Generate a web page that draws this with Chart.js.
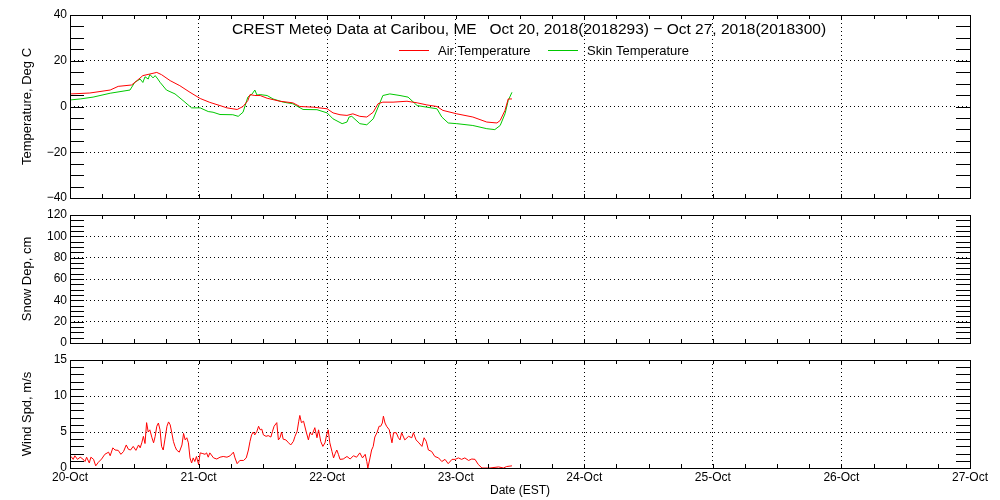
<!DOCTYPE html>
<html>
<head>
<meta charset="utf-8">
<script src="https://cdn.jsdelivr.net/npm/chart.js"></script>
<style>
  body { margin: 0; background: #fff; }
  #wrap { position: relative; width: 1000px; height: 500px; background: #fff; }
  #wrap canvas { position: absolute; left: 0; }
</style>
</head>
<body>
<div id="wrap">
  <canvas id="tempChart" width="1000" height="210" style="top:0px"></canvas>
  <canvas id="snowChart" width="1000" height="152" style="top:203px"></canvas>
  <canvas id="windChart" width="1000" height="152" style="top:348px"></canvas>
</div>
<script>
// Day labels along the time axis (hours since 20-Oct 00:00 EST)
const dayLabels = ['20-Oct', '21-Oct', '22-Oct', '23-Oct', '24-Oct', '25-Oct', '26-Oct', '27-Oct'];

// Air temperature, deg C
const airHours = [0.2, 3.7, 7.5, 9.0, 11.5, 12.5, 13.6, 14.9, 16.2, 17.1, 18.7, 20.5, 22.4, 24.3, 26.1,
  28.0, 29.3, 31.2, 32.3, 33.2, 33.6, 34.5, 35.5, 36.8, 39.2, 41.6, 42.9, 45.4, 48.0, 49.1, 50.4,
  51.7, 52.8, 54.1, 55.4, 56.6, 57.5, 58.4, 60.3, 62.9, 64.8, 66.6, 68.5, 69.6, 72.2, 75.2, 77.8,
  79.7, 80.3, 81.2, 81.8, 82.5];
const airTemp = [5.5, 5.9, 7.2, 8.8, 9.4, 11.3, 13.5, 14.2, 14.9, 13.9, 11.3, 9.1, 6.2, 3.5, 1.8,
  0.4, -0.6, -1.3, 0, 2.6, 5.2, 4.8, 4.8, 3.6, 2.3, 1.6, 0, -0.3, -1.0, -2.8, -3.6,
  -3.9, -3.2, -4.3, -4.6, -2.5, 1.2, 1.9, 1.9, 2.3, 1.6, 0.7, 0, -1.7, -3.2, -4.6, -6.8,
  -7.2, -6.1, -1.7, 3.3, 3.3];

// Skin temperature, deg C
const skinHours = [0.2, 1.9, 4.3, 7.5, 11.2, 12.1, 13.1, 13.6, 14.0, 14.6, 14.9, 15.5, 15.9, 16.4, 16.8,
  18.0, 19.6, 21.1, 22.7, 24.3, 25.8, 26.7, 28.0, 30.4, 31.4, 32.3, 33.2, 34.0, 34.5, 34.9, 35.5,
  36.8, 37.9, 39.8, 41.6, 43.5, 46.1, 48.0, 49.1, 50.8, 51.7, 52.1, 52.6, 54.1, 55.4, 56.6, 57.9,
  58.4, 59.7, 61.6, 63.1, 64.8, 66.6, 68.5, 69.4, 70.6, 72.2, 75.2, 77.8, 79.3, 80.3, 81.2, 81.8, 82.5];
const skinTemp = [2.9, 3.3, 4.1, 5.8, 7.2, 10.6, 12.0, 10.5, 13.0, 12.0, 14.0, 12.5, 13.5, 12.0, 10.6,
  7.2, 5.5, 2.6, -0.6, -0.6, -2.2, -2.5, -3.5, -3.6, -4.3, -2.5, 4.1, 5.5, 7.2, 5.0, 5.2,
  4.8, 3.3, 1.9, 1.2, -1.3, -1.4, -2.8, -5.4, -7.5, -6.8, -4.6, -4.3, -7.5, -8.0, -5.4, 1.9,
  4.8, 5.5, 4.8, 4.1, 0.4, -0.3, -1.0, -4.6, -7.2, -7.5, -8.3, -9.7, -10.1, -8.3, -3.2, 2.6, 6.2];

// Wind speed, m/s
const windHours = [0.2, 0.6, 0.9, 1.4, 1.9, 2.4, 2.8, 3.1, 3.6, 3.9, 4.4, 4.8, 5.3, 5.9, 6.5, 7.2, 7.5,
  8.0, 8.4, 9.0, 9.5, 10.0, 10.5, 10.9, 11.3, 11.8, 12.3, 12.8, 13.1, 13.4, 13.7, 14.0, 14.3, 14.6,
  14.9, 15.3, 15.6, 15.9, 16.2, 16.5, 16.8, 17.1, 17.4, 17.7, 18.1, 18.4, 18.7, 19.0, 19.3, 19.6,
  19.9, 20.4, 20.9, 21.2, 21.5, 21.8, 22.1, 22.4, 22.7, 23.0, 23.3, 23.6, 24.0, 24.3, 24.8, 25.2,
  25.5, 25.8, 26.1, 26.8, 27.4, 28.0, 28.6, 29.3, 29.9, 30.5, 30.8, 31.2, 31.7, 32.4, 32.9, 33.3,
  33.6, 33.9, 34.2, 34.5, 34.9, 35.2, 35.5, 35.8, 36.1, 36.6, 37.0, 37.5, 37.8, 38.1, 38.6, 38.9,
  39.2, 39.5, 39.8, 40.3, 40.8, 41.2, 41.7, 42.0, 42.4, 42.7, 42.9, 43.2, 43.6, 44.1, 44.5, 44.8,
  45.2, 45.7, 46.1, 46.4, 46.8, 47.2, 47.6, 47.9, 48.2, 48.5, 48.9, 49.2, 49.5, 49.8, 50.1, 50.4,
  51.0, 51.7, 52.3, 52.9, 53.5, 54.1, 54.6, 55.1, 55.4, 55.6, 56.0, 56.3, 56.6, 56.9, 57.3, 57.7,
  58.0, 58.3, 58.5, 58.8, 59.1, 59.6, 60.1, 60.4, 60.9, 61.3, 61.6, 61.9, 62.5, 63.2, 63.8, 64.1,
  64.6, 65.0, 65.7, 66.1, 66.5, 66.9, 67.5, 68.1, 68.8, 69.4, 70.0, 70.6, 71.3, 71.9, 72.5, 73.1,
  73.7, 74.4, 75.0, 75.6, 76.2, 76.9, 78.4, 80.0, 80.9, 81.5, 82.5];
const windSpeed = [1.6, 1.2, 1.7, 1.2, 1.5, 1.25, 0.9, 1.5, 0.7, 1.5, 1.2, 0.3, 0.8, 1.25, 1.9, 2.2, 1.7,
  2.8, 2.5, 2.45, 1.9, 2.3, 3.2, 2.6, 2.5, 3.0, 2.45, 3.2, 2.8, 3.5, 4.4, 3.4, 6.3, 5.0,
  5.3, 4.2, 3.5, 4.4, 5.8, 6.25, 5.3, 3.0, 2.5, 3.9, 5.8, 6.4, 6.0, 4.9, 3.7, 3.0,
  2.5, 2.2, 3.2, 4.8, 3.9, 4.2, 3.5, 1.4, 0.7, 1.4, 0.9, 1.6, 0.5, 2.1, 2.0, 1.9,
  2.1, 1.5, 2.1, 1.4, 1.25, 1.5, 1.6, 1.5, 1.7, 2.2, 1.4, 0.6, 1.05, 1.05, 1.4, 2.5,
  3.7, 4.6, 5.0, 4.6, 5.1, 5.8, 5.3, 5.4, 4.6, 4.4, 4.5, 4.3, 5.1, 5.8, 6.3, 3.9,
  4.2, 5.0, 4.0, 3.9, 3.5, 3.2, 3.7, 4.4, 5.1, 6.5, 7.3, 6.3, 6.5, 5.0, 3.9, 4.9,
  4.6, 5.6, 4.2, 5.3, 3.7, 3.0, 3.5, 4.6, 5.3, 3.5, 2.3, 1.4, 2.0, 2.5, 1.9, 1.2,
  1.25, 1.6, 1.25, 1.7, 1.5, 2.1, 1.4, 1.9, 0.9, 0, 1.4, 2.5, 3.0, 4.3, 4.9, 5.8,
  5.8, 6.25, 7.2, 6.25, 5.8, 5.3, 3.5, 4.9, 4.9, 4.2, 3.9, 4.9, 3.9, 4.4, 4.2, 4.9,
  3.9, 3.6, 3.0, 4.2, 3.7, 2.5, 2.3, 1.6, 1.4, 0.9, 1.2, 0.6, 1.2, 1.2, 1.4, 1.2,
  1.4, 1.05, 1.25, 1.2, 0.5, 0, 0, 0.15, 0, 0.2, 0.3];

const FONT = "'Liberation Sans', Arial, sans-serif";
Chart.defaults.font.family = FONT;
Chart.defaults.font.size = 12;
Chart.defaults.color = '#000';

function toPoints(xs, ys) {
  return xs.map((x, i) => ({ x: x, y: ys[i] }));
}

function minusLabel(v) {
  return v < 0 ? '\u2212' + Math.abs(v) : String(v);
}

// Frame with inward tick marks on all four sides, like the IDL plot
const framePlugin = {
  id: 'frame',
  afterDatasetsDraw(chart, args, opts) {
    const { ctx, chartArea: a, scales } = chart;
    ctx.save();
    ctx.strokeStyle = '#000';
    ctx.lineWidth = 1;
    ctx.setLineDash([]);
    ctx.beginPath();
    for (let v = scales.y.min; v <= scales.y.max + 1e-9; v += opts.yMinor) {
      const y = Math.round(scales.y.getPixelForValue(v)) + 0.5;
      ctx.moveTo(a.left, y); ctx.lineTo(a.left + 14, y);
      ctx.moveTo(a.right - 14, y); ctx.lineTo(a.right, y);
    }
    for (let h = 0; h <= 168; h += 6) {
      const x = Math.round(scales.x.getPixelForValue(h)) + 0.5;
      ctx.moveTo(x, a.top); ctx.lineTo(x, a.top + 4);
      ctx.moveTo(x, a.bottom); ctx.lineTo(x, a.bottom - 4);
    }
    ctx.stroke();
    ctx.strokeRect(a.left + 0.5, a.top + 0.5, a.right - a.left, a.bottom - a.top);
    ctx.restore();
  }
};

// Title and legend drawn inside the top panel
const headerPlugin = {
  id: 'header',
  afterDraw(chart) {
    const ctx = chart.ctx;
    ctx.save();
    ctx.fillStyle = '#000';
    ctx.textBaseline = 'middle';
    ctx.textAlign = 'left';
    ctx.font = '15.5px ' + FONT;
    ctx.fillText('CREST Meteo Data at Caribou, ME   Oct 20, 2018(2018293) \u2212 Oct 27, 2018(2018300)', 232, 30);
    ctx.font = '13px ' + FONT;
    const items = [
      { label: 'Air Temperature', color: '#ff0000', x: 399 },
      { label: 'Skin Temperature', color: '#00c800', x: 548 }
    ];
    items.forEach(it => {
      ctx.strokeStyle = it.color;
      ctx.lineWidth = 1;
      ctx.beginPath();
      ctx.moveTo(it.x, 50.5);
      ctx.lineTo(it.x + 30, 50.5);
      ctx.stroke();
      ctx.fillText(it.label, it.x + 39, 51);
    });
    ctx.restore();
  }
};

function makeOptions(o) {
  return {
    responsive: false,
    animation: false,
    devicePixelRatio: 1,
    layout: { autoPadding: false, padding: { top: o.padTop, bottom: o.padBottom, left: 0, right: 30 } },
    plugins: {
      legend: { display: false },
      tooltip: { enabled: false },
      frame: { yMinor: o.yMinor }
    },
    elements: { point: { radius: 0 }, line: { borderWidth: 1, tension: 0 } },
    scales: {
      x: {
        type: 'linear',
        min: 0,
        max: 168,
        afterFit: s => { s.height = o.xHeight; },
        grid: { color: '#000', lineWidth: 1, drawTicks: false },
        border: { display: false, dash: [1, 3] },
        ticks: {
          display: o.showX,
          stepSize: 24,
          padding: 2,
          maxRotation: 0,
          autoSkip: false,
          callback: v => dayLabels[Math.round(v / 24)]
        },
        title: { display: o.showX, text: 'Date (EST)', padding: { top: 0, bottom: 2 } }
      },
      y: {
        min: o.yMin,
        max: o.yMax,
        afterFit: s => { s.width = 70; },
        grid: { color: '#000', lineWidth: 1, drawTicks: false },
        border: { display: false, dash: [1, 3] },
        ticks: { stepSize: o.yStep, padding: 3, callback: minusLabel },
        title: { display: true, text: o.yTitle, font: { size: 13 }, padding: { top: 20, bottom: 0 } }
      }
    }
  };
}

new Chart(document.getElementById('tempChart'), {
  type: 'line',
  data: {
    datasets: [
      { data: toPoints(airHours, airTemp), borderColor: '#ff0000' },
      { data: toPoints(skinHours, skinTemp), borderColor: '#00c800' }
    ]
  },
  options: makeOptions({ padTop: 15, padBottom: 12, xHeight: 0, showX: false,
    yMin: -40, yMax: 40, yStep: 20, yMinor: 5, yTitle: 'Temperature, Deg C' }),
  plugins: [framePlugin, headerPlugin]
});

new Chart(document.getElementById('snowChart'), {
  type: 'line',
  data: { datasets: [{ data: [], borderColor: '#ff0000' }] },
  options: makeOptions({ padTop: 12, padBottom: 12, xHeight: 0, showX: false,
    yMin: 0, yMax: 120, yStep: 20, yMinor: 5, yTitle: 'Snow Dep, cm' }),
  plugins: [framePlugin]
});

new Chart(document.getElementById('windChart'), {
  type: 'line',
  data: { datasets: [{ data: toPoints(windHours, windSpeed), borderColor: '#ff0000' }] },
  options: makeOptions({ padTop: 12, padBottom: 0, xHeight: 32, showX: true,
    yMin: 0, yMax: 15, yStep: 5, yMinor: 1, yTitle: 'Wind Spd, m/s' }),
  plugins: [framePlugin]
});
</script>
</body>
</html>
